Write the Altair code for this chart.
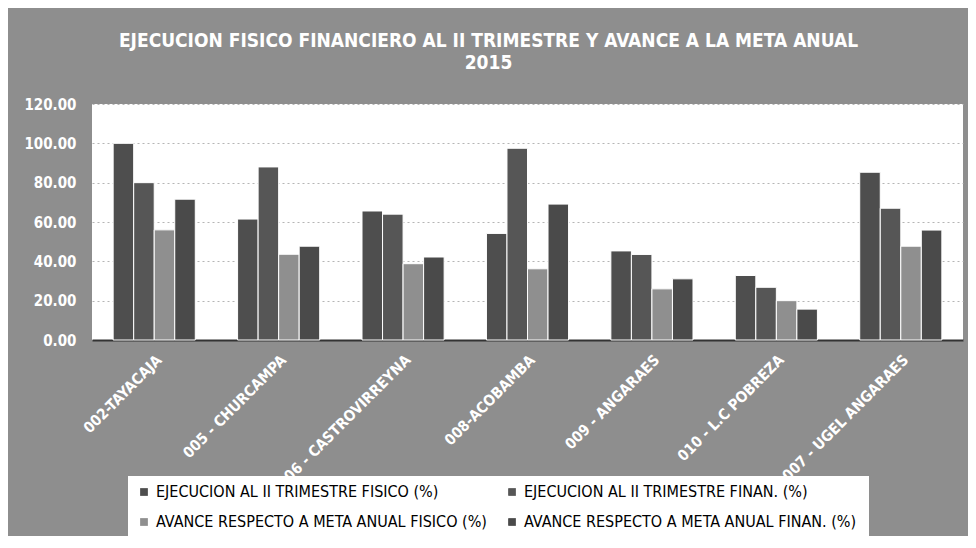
import altair as alt
import pandas as pd

categories = [
    "002-TAYACAJA",
    "005 - CHURCAMPA",
    "006 - CASTROVIRREYNA",
    "008-ACOBAMBA",
    "009 - ANGARAES",
    "010 - L.C POBREZA",
    "007 - UGEL ANGARAES",
]
series = [
    "EJECUCION  AL II  TRIMESTRE FISICO (%)",
    "EJECUCION  AL II  TRIMESTRE FINAN. (%)",
    "AVANCE RESPECTO A META ANUAL  FISICO (%)",
    "AVANCE RESPECTO A META ANUAL  FINAN. (%)",
]
ejec_fisico = [100.0, 61.5, 65.6, 54.2, 45.3, 32.8, 85.3]
ejec_finan = [80.0, 88.0, 64.0, 97.5, 43.5, 26.8, 67.0]
avance_fisico = [56.0, 43.6, 38.8, 36.2, 26.0, 20.0, 47.7]
avance_finan = [71.6, 47.7, 42.2, 69.1, 31.1, 15.7, 55.9]
y_ticks = [0, 20, 40, 60, 80, 100, 120]
colors = ["#4e4e4e", "#565656", "#8f8f8f", "#4a4a4a"]

rows = []
for i, c in enumerate(categories):
    for s, vals in zip(series, [ejec_fisico, ejec_finan, avance_fisico, avance_finan]):
        rows.append({"cat": c, "serie": s, "valor": vals[i]})
df = pd.DataFrame(rows)

FONT = "Liberation Sans Narrow, DejaVu Sans Condensed, Liberation Sans, sans-serif"

chart = (
    alt.Chart(df)
    .mark_bar(stroke="white", strokeWidth=1)
    .encode(
        x=alt.X(
            "cat:N",
            sort=categories,
            title=None,
            scale=alt.Scale(paddingInner=0.34, paddingOuter=0.17),
            axis=alt.Axis(
                labelAngle=-45,
                labelColor="white",
                labelFontSize=15,
                labelFontWeight="bold",
                labelFont=FONT,
                labelPadding=12,
                labelLimit=300,
                ticks=False,
                domainColor="#333333",
                domainWidth=2,
            ),
        ),
        xOffset=alt.XOffset("serie:N", sort=series),
        y=alt.Y(
            "valor:Q",
            title=None,
            scale=alt.Scale(domain=[0, 120]),
            axis=alt.Axis(
                values=y_ticks,
                format=".2f",
                grid=True,
                gridDash=[2, 3],
                gridColor="#b5b5b5",
                domain=False,
                ticks=False,
                labelColor="white",
                labelFontSize=15,
                labelFontWeight="bold",
                labelFont=FONT,
                labelPadding=16,
            ),
        ),
        color=alt.Color(
            "serie:N",
            sort=series,
            scale=alt.Scale(domain=series, range=colors),
            legend=alt.Legend(
                title=None,
                orient="none",
                direction="horizontal",
                legendX=36,
                legendY=372,
                columns=2,
                fillColor="white",
                padding=8,
                symbolType="square",
                symbolSize=60,
                symbolStrokeWidth=0,
                labelFontSize=16,
                labelFont=FONT,
                labelColor="black",
                labelLimit=500,
                rowPadding=14,
                columnPadding=12,
            ),
        ),
    )
    .properties(
        width=871,
        height=236,
        background="#8e8e8e",
        padding={"left": 84, "top": 96, "right": 5, "bottom": 196},
        autosize=alt.AutoSizeParams(type="none"),
        title=alt.TitleParams(
            text=["EJECUCION FISICO FINANCIERO AL II TRIMESTRE Y AVANCE A LA META ANUAL", "2015"],
            color="white",
            fontSize=19,
            font=FONT,
            fontWeight="bold",
            anchor="middle",
            dx=-39,
            offset=24,
            lineHeight=22,
        ),
    )
    .configure_view(stroke=None, fill="white")
)

chart.save("out.html", embed_options={"renderer": "svg", "actions": False})
